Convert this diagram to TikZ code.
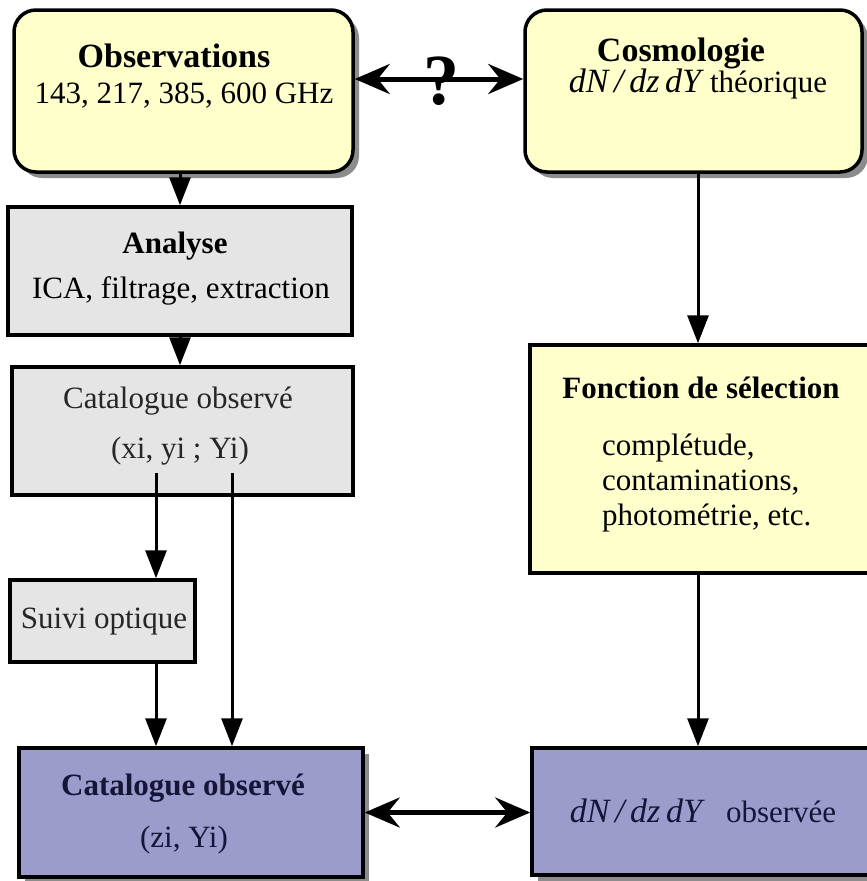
\documentclass[tikz,border=0pt]{standalone}
\usepackage{fontspec}
\setmainfont{Liberation Serif}
\usetikzlibrary{arrows.meta,shadows,calc}
\definecolor{boxyellow}{HTML}{FFFFCC}
\definecolor{boxgray}{HTML}{E5E5E5}
\definecolor{boxblue}{HTML}{9C9CCC}
\definecolor{shadowgray}{HTML}{8C8C8C}
\definecolor{navytext}{HTML}{15153A}
\newcommand{\dNdzdY}{{\fontsize{34}{40}\selectfont\itshape dN\,/\,dz\,dY}}
\begin{document}
\begin{tikzpicture}[x=1pt,y=-1pt,
  box/.style={draw=black, line width=3.5pt, inner sep=0pt},
  shdw/.style={drop shadow={shadow xshift=6pt, shadow yshift=-6pt, fill=shadowgray, opacity=1}},
  yellowbox/.style={box, fill=boxyellow},
  graybox/.style={box, fill=boxgray},
  bluebox/.style={box, fill=boxblue},
  bigtitle/.style={anchor=base, inner sep=0pt, font=\fontsize{34}{40}\selectfont\bfseries},
  title/.style={anchor=base, inner sep=0pt, font=\fontsize{31}{36}\selectfont\bfseries},
  body/.style={anchor=base, inner sep=0pt, font=\fontsize{31}{36}\selectfont},
  varr/.style={line width=3pt, -{Triangle[length=28pt,width=21pt]}},
  darr/.style={line width=5pt, {Stealth[length=35pt,width=30pt,inset=12pt]}-{Stealth[length=35pt,width=30pt,inset=12pt]}}
]
\useasboundingbox (0,0) rectangle (867,881);
\clip (0,0) rectangle (867,881);
\fill[white] (0,0) rectangle (867,881);

% boxes
\node[yellowbox, shdw, rounded corners=22pt, minimum width=339pt, minimum height=162pt] (obs) at (183.5,91) {};
\node[yellowbox, shdw, rounded corners=22pt, minimum width=337pt, minimum height=162pt] (cosm) at (693.5,91) {};
\node[graybox, minimum width=344pt, minimum height=128pt] (ana) at (180,271) {};
\node[graybox, minimum width=341pt, minimum height=128pt] (cat) at (182.5,431) {};
\node[graybox, minimum width=185pt, minimum height=82pt] (suivi) at (102.5,621) {};
\node[bluebox, shdw, minimum width=344pt, minimum height=129pt] (bcat) at (191,812.5) {};
\node[bluebox, shdw, minimum width=368pt, minimum height=127pt] (dn) at (716,811.5) {};
\node[yellowbox, minimum width=370pt, minimum height=228pt] (fonc) at (715,459) {};

% texts
\node[bigtitle] (obsT) at (174,67) {Observations};
\node[body] (obsL) at (184,103) {143, 217, 385, 600 GHz};
\node[bigtitle] (cosmT) at (681,61) {Cosmologie};
\node[body] (cosmL) at (698,92) {\dNdzdY\hspace{9pt}théorique};
\node[title] (anaT) at (175,253) {Analyse};
\node[body] (anaL) at (181,298) {ICA, filtrage, extraction};
\node[body, text=black!85] (catT) at (178,408) {Catalogue observé};
\node[body, text=black!85] (catL) at (180,458) {(xi, yi ; Yi)};
\node[body, text=black!85] (suiviT) at (104,628) {Suivi optique};
\node[title, text=navytext] (bcatT) at (183,795) {Catalogue observé};
\node[body, text=navytext] (bcatL) at (184,847) {(zi, Yi)};
\node[body, text=navytext] (dnT) at (703,822) {\dNdzdY\hspace{24pt}observée};
\node[title] (foncT) at (701,398) {Fonction de sélection};
\node[anchor=base west, inner sep=0pt, align=left, font=\fontsize{31}{35}\selectfont] (foncL) at (602,525) {complétude,\\contaminations,\\photométrie, etc.};

% connectors
\coordinate (q) at (440,79);
\draw[darr] (obs.east |- q) -- (cosm.west |- q);
\node[inner sep=0pt, font=\fontsize{72}{80}\selectfont\bfseries] (qm) at (441,81) {?};

\draw[varr] (obs.south -| ana.north) -- (ana.north);
\draw[varr] (ana.south) -- (ana.south |- cat.north);

\coordinate (l1) at (156,473);
\coordinate (l2) at (232,473);
\draw[varr] (l1) -- (l1 |- suivi.north);
\draw[varr] (suivi.south -| l1) -- (l1 |- bcat.north);
\draw[varr] (l2) -- (l2 |- bcat.north);

\coordinate (cx) at (698,0);
\draw[varr] (cosm.south -| cx) -- (fonc.north -| cx);
\draw[varr] (fonc.south -| cx) -- (dn.north -| cx);

\draw[darr] (bcat.east) -- (dn.west |- bcat.east);
\end{tikzpicture}
\end{document}
